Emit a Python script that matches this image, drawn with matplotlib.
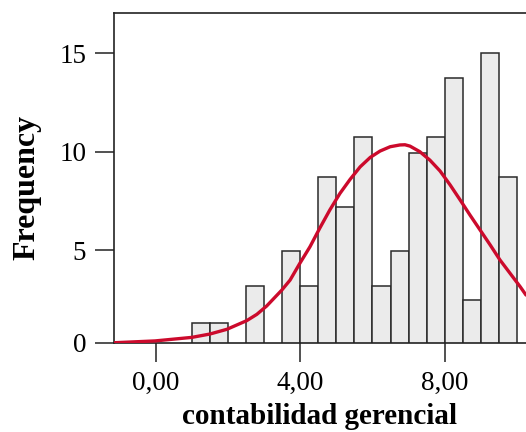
#!/usr/bin/env python3
"""Histogram of 'contabilidad gerencial' with fitted normal curve overlay."""

import matplotlib

matplotlib.use("Agg")
import matplotlib.pyplot as plt

# bin centres (width 0.5) and frequencies
bin_centers = [1.25, 1.75, 2.75, 3.75, 4.25, 4.75, 5.25, 5.75,
               6.25, 6.75, 7.25, 7.75, 8.25, 8.75, 9.25, 9.75]
frequencies = [1.29, 1.29, 3.19, 4.98, 3.2, 8.74, 7.21, 10.77,
               3.2, 4.98, 9.92, 10.77, 13.76, 2.48, 15.0, 8.74]
bin_width = 0.5

# normal curve, points
curve_x = [-1.13, -0.02, 1.0, 1.5, 1.97, 2.52, 2.8, 3.07, 3.49, 3.72, 3.99,
           4.27, 4.54, 4.82, 5.10, 5.38, 5.66, 5.94, 6.21, 6.49, 6.76, 6.9,
           7.04, 7.31, 7.59, 7.87, 8.15, 8.43, 8.70, 8.98, 9.26, 9.53, 9.81,
           10.09, 10.25]
curve_y = [0.31, 0.40, 0.58, 0.75, 0.99, 1.43, 1.75, 2.17, 2.98, 3.49, 4.34,
           5.18, 6.12, 7.05, 7.89, 8.60, 9.24, 9.72, 10.04, 10.26, 10.35, 10.36,
           10.29, 10.01, 9.58, 9.03, 8.32, 7.55, 6.79, 6.03, 5.27, 4.51, 3.83,
           3.15, 2.73]

xticks = [0, 4, 8]
xticklabels = ["0,00", "4,00", "8,00"]
yticks = [5, 10, 15]

plt.rcParams["font.family"] = ["Liberation Serif", "DejaVu Serif"]

fig = plt.figure(figsize=(5.26, 4.32), dpi=100)
ax = fig.add_axes([114 / 526, 89.3 / 432, 412 / 526, 329.7 / 432])

y_base = 0.31  # where the "0" baseline sits on the frequency scale
ax.bar(bin_centers, frequencies, width=bin_width, color="#ebebeb",
       edgecolor="#2a2a2a", linewidth=1.1, zorder=2)
ax.plot(curve_x, curve_y, color="#cc0a2c", linewidth=2.4,
        solid_joinstyle="round", solid_capstyle="round", zorder=3)

ax.set_xlim(-1.154, 10.25)
ax.set_ylim(y_base, 17.05)
ax.set_xticks(xticks)
ax.set_xticklabels(xticklabels)
ax.set_yticks([y_base] + yticks)
ax.set_yticklabels(["0"] + [str(v) for v in yticks])

ax.tick_params(axis="both", direction="out", length=14, width=1.1,
               color="#222222", labelsize=19.5, pad=6)
for side in ("left", "top", "bottom"):
    ax.spines[side].set_color("#222222")
    ax.spines[side].set_linewidth(1.2)
ax.spines["right"].set_visible(False)

# axis titles placed where they sit in the reference
fig.text(320 / 526, 7.5 / 432, "contabilidad gerencial", fontsize=21,
         fontweight="bold", ha="center", va="baseline")
fig.text(27 / 526, 1 - 187.5 / 432, "Frequency", fontsize=23,
         fontweight="bold", rotation=90, ha="center", va="center")

fig.savefig("out.png", dpi=100)
